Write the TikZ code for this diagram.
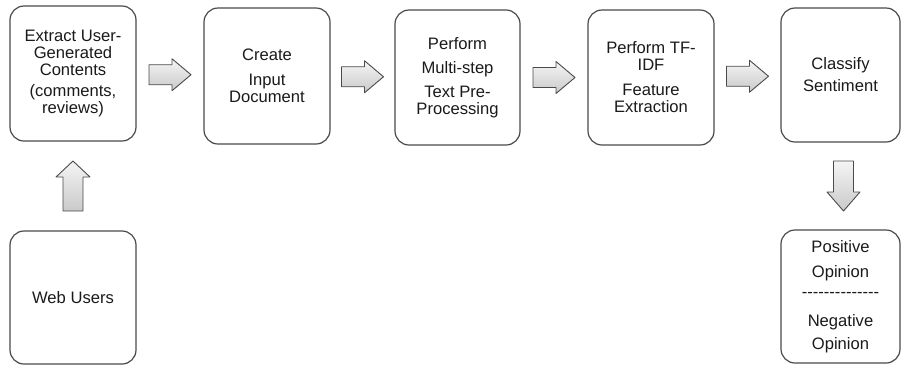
\documentclass[tikz,border=0pt]{standalone}
\usepackage{fontspec}
\setmainfont{Liberation Sans}
\usetikzlibrary{calc}
\definecolor{edge}{HTML}{4A4A4A}
\definecolor{ink}{HTML}{1A1A1A}
\newcommand\hy{\mbox{-}}
\begin{document}
\begin{tikzpicture}[x=1pt,y=-1pt,
  stage/.style={draw=edge,line width=1.2pt,rounded corners=14pt,align=center,
    text=ink,font=\fontsize{16.6}{17}\selectfont,inner sep=0pt},
  flow/.style={draw=edge,line width=0.9pt,line join=round,top color=gray!8,
    bottom color=gray!42}]
\useasboundingbox (0,0) rectangle (901,365);
\clip (0,0) rectangle (901,365);

% pipeline stages
\node[stage,minimum width=126pt,minimum height=135pt] (extract) at (73,73.5)
  {Extract User-\\Generated\\Contents\\[4pt](comments,\\reviews)};
\node[stage,minimum width=126pt,minimum height=136pt] (input) at (267,76)
  {Create\\[8pt]Input\\Document};
\node[stage,minimum width=125pt,minimum height=135pt] (prep) at (457.5,77.5)
  {Perform\\[7pt]Multi-step\\[7pt]Text Pre-\\Processing};
\node[stage,minimum width=126pt,minimum height=135pt] (tfidf) at (651,77.5)
  {Perform TF-\\IDF\\[8pt]Feature\\Extraction};
\node[stage,minimum width=119pt,minimum height=134pt] (classify) at (840.5,75)
  {Classify\\[5pt]Sentiment};
\node[stage,minimum width=119pt,minimum height=133pt] (opinion) at (840.5,296.5)
  {Positive\\[8pt]Opinion\\[3pt]\hy\hy\hy\hy\hy\hy\hy\hy\hy\hy\hy\hy\hy\hy\\[12pt]Negative\\[6pt]Opinion};
\node[stage,minimum width=126pt,minimum height=133pt] (web) at (73,297.5)
  {Web Users};

% anchor points for the block arrows, halfway between stages
\coordinate (f1) at ($(extract.east)!0.5!(input.west)$);
\coordinate (f2) at ($(input.east)!0.5!(prep.west)$);
\coordinate (f3) at ($(prep.east)!0.5!(tfidf.west)$);
\coordinate (f4) at ($(tfidf.east)!0.5!(classify.west)$);
\coordinate (fup) at ($(web.north)!0.5!(extract.south)$);
\coordinate (fdown) at ($(classify.south)!0.5!(opinion.north)+(3,0)$);

% right-pointing block arrows
\foreach \a in {f1,f2,f3,f4}
  \path[flow,shift={(\a)}] (-21,-10) -- (2,-10) -- (2,-16) -- (21,0)
    -- (2,16) -- (2,10) -- (-21,10) -- cycle;
% upward block arrow
\path[flow,shift={(fup)}] (-10,25) -- (-10,-9) -- (-17,-9) -- (0,-25)
  -- (17,-9) -- (10,-9) -- (10,25) -- cycle;
% downward block arrow
\path[flow,shift={(fdown)}] (-10,-25) -- (-10,6) -- (-16.5,6) -- (0,25)
  -- (16.5,6) -- (10,6) -- (10,-25) -- cycle;
\end{tikzpicture}
\end{document}
